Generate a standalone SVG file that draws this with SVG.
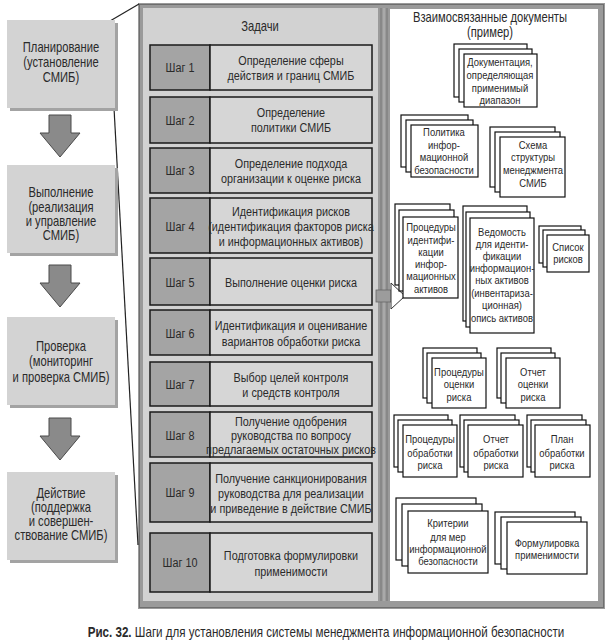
<svg xmlns="http://www.w3.org/2000/svg" width="608" height="644" viewBox="0 0 608 644">
<style>
text{font-family:"Liberation Sans",Arial,sans-serif;fill:#2a2a2a;text-anchor:middle;transform:scale(0.8,1)}
.ph{fill:#d3d3d3}
.sh{fill:#a3a3a3}
.lt{font-size:14px}
.st{font-size:13.5px}
.sn{fill:#a4a4a4;stroke:#1a1a1a;stroke-width:1.5}
.sd{fill:#d6d6d6;stroke:#1a1a1a;stroke-width:1.5}
.dc{fill:#fff;stroke:#111;stroke-width:1.2}
.dt{font-size:11.8px}
.ar{fill:#8a8a8a;stroke:#4a4a4a;stroke-width:1}
.ln{stroke:#222;stroke-width:1.2;fill:none}
</style>
<rect width="608" height="644" fill="#fff"/>

<!-- frames -->
<g id="frame">
<rect x="138" y="3" width="467" height="606" fill="#9a9a9a"/>
<rect x="139.5" y="4.5" width="464" height="603" fill="none" stroke="#6e6e6e" stroke-width="1"/>
<rect x="143" y="8" width="235" height="593" fill="#d2d2d2"/>
<rect x="390" y="9" width="208" height="592" fill="#fff"/>
<line x1="381" y1="8" x2="381" y2="601" stroke="#777" stroke-width="1"/>
<line x1="384" y1="8" x2="384" y2="601" stroke="#b8b8b8" stroke-width="1"/>
<line x1="387" y1="8" x2="387" y2="601" stroke="#777" stroke-width="1"/>
</g>

<!-- connectors -->
<g id="connectors">
<line class="ln" x1="110" y1="21" x2="139" y2="4"/>
<line class="ln" x1="114" y1="108" x2="138" y2="545"/>
<path class="ar" d="M49,115 H71 V133 H80 L60,157 L40,133 H49 Z"/>
<path class="ar" d="M49,265 H71 V283 H80 L60,307 L40,283 H49 Z"/>
<path class="ar" d="M49,418 H71 V436 H80 L60,460 L40,436 H49 Z"/>
<rect x="376" y="290" width="16" height="12" fill="#9c9c9c" stroke="#666" stroke-width="0.8"/>
<path d="M391,283 L405,296 L391,309 Z" fill="#fff" stroke="#333" stroke-width="1"/>
</g>

<!-- left phases -->
<g id="phase1">
<rect class="sh" x="10" y="23" width="108" height="88"/>
<rect class="ph" x="7" y="20" width="108" height="88"/>
<text class="lt" x="76.25" y="52">Планирование</text>
<text class="lt" x="76.25" y="67">(установление</text>
<text class="lt" x="76.25" y="82">СМИБ)</text>
</g>
<g id="phase2">
<rect class="sh" x="10" y="168" width="108" height="88"/>
<rect class="ph" x="7" y="165" width="108" height="88"/>
<text class="lt" x="76.25" y="197">Выполнение</text>
<text class="lt" x="76.25" y="212">(реализация</text>
<text class="lt" x="76.25" y="226">и управление</text>
<text class="lt" x="76.25" y="240">СМИБ)</text>
</g>
<g id="phase3">
<rect class="sh" x="10" y="320" width="108" height="88"/>
<rect class="ph" x="7" y="317" width="108" height="88"/>
<text class="lt" x="76.25" y="351">Проверка</text>
<text class="lt" x="76.25" y="366">(мониторинг</text>
<text class="lt" x="76.25" y="382">и проверка СМИБ)</text>
</g>
<g id="phase4">
<rect class="sh" x="10" y="475" width="108" height="88"/>
<rect class="ph" x="7" y="472" width="108" height="88"/>
<text class="lt" x="76.25" y="498">Действие</text>
<text class="lt" x="76.25" y="512">(поддержка</text>
<text class="lt" x="76.25" y="526">и совершен-</text>
<text class="lt" x="76.25" y="540">ствование СМИБ)</text>
</g>

<!-- tasks -->
<text class="lt" x="325" y="31">Задачи</text>
<g id="step1">
<rect class="sn" x="150" y="45" width="60" height="45"/><rect class="sd" x="210" y="45" width="162" height="45"/>
<text class="st" x="225" y="72">Шаг 1</text>
<text class="st" x="363.75" y="65">Определение сферы</text>
<text class="st" x="363.75" y="80">действия и границ СМИБ</text>
</g>
<g id="step2">
<rect class="sn" x="150" y="97" width="60" height="46"/><rect class="sd" x="210" y="97" width="162" height="46"/>
<text class="st" x="225" y="125">Шаг 2</text>
<text class="st" x="363.75" y="117">Определение</text>
<text class="st" x="363.75" y="132">политики СМИБ</text>
</g>
<g id="step3">
<rect class="sn" x="150" y="148" width="60" height="45"/><rect class="sd" x="210" y="148" width="162" height="45"/>
<text class="st" x="225" y="175">Шаг 3</text>
<text class="st" x="363.75" y="168">Определение подхода</text>
<text class="st" x="363.75" y="183">организации к оценке риска</text>
</g>
<g id="step4">
<rect class="sn" x="150" y="198" width="60" height="55"/><rect class="sd" x="210" y="198" width="162" height="55"/>
<text class="st" x="225" y="231">Шаг 4</text>
<text class="st" x="363.75" y="216">Идентификация рисков</text>
<text class="st" x="363.75" y="231">(идентификация факторов риска</text>
<text class="st" x="363.75" y="246">и информационных активов)</text>
</g>
<g id="step5">
<rect class="sn" x="150" y="258" width="60" height="47"/><rect class="sd" x="210" y="258" width="162" height="47"/>
<text class="st" x="225" y="287">Шаг 5</text>
<text class="st" x="363.75" y="287">Выполнение оценки риска</text>
</g>
<g id="step6">
<rect class="sn" x="150" y="310" width="60" height="45"/><rect class="sd" x="210" y="310" width="162" height="45"/>
<text class="st" x="225" y="338">Шаг 6</text>
<text class="st" x="363.75" y="330">Идентификация и оценивание</text>
<text class="st" x="363.75" y="346">вариантов обработки риска</text>
</g>
<g id="step7">
<rect class="sn" x="150" y="362" width="60" height="44"/><rect class="sd" x="210" y="362" width="162" height="44"/>
<text class="st" x="225" y="389">Шаг 7</text>
<text class="st" x="363.75" y="382">Выбор целей контроля</text>
<text class="st" x="363.75" y="397">и средств контроля</text>
</g>
<g id="step8">
<rect class="sn" x="150" y="412" width="60" height="45"/><rect class="sd" x="210" y="412" width="162" height="45"/>
<text class="st" x="225" y="440">Шаг 8</text>
<text class="st" x="363.75" y="426">Получение одобрения</text>
<text class="st" x="363.75" y="440">руководства по вопросу</text>
<text class="st" x="363.75" y="454">предлагаемых остаточных рисков</text>
</g>
<g id="step9">
<rect class="sn" x="150" y="463" width="60" height="59"/><rect class="sd" x="210" y="463" width="162" height="59"/>
<text class="st" x="225" y="497">Шаг 9</text>
<text class="st" x="363.75" y="483">Получение санкционирования</text>
<text class="st" x="363.75" y="498">руководства для реализации</text>
<text class="st" x="363.75" y="513">и приведение в действие СМИБ</text>
</g>
<g id="step10">
<rect class="sn" x="150" y="533" width="60" height="59"/><rect class="sd" x="210" y="533" width="162" height="59"/>
<text class="st" x="225" y="567">Шаг 10</text>
<text class="st" x="363.75" y="560">Подготовка формулировки</text>
<text class="st" x="363.75" y="576">применимости</text>
</g>

<!-- documents -->
<text class="lt" x="612.5" y="22">Взаимосвязанные документы</text>
<text class="lt" x="612.5" y="37">(пример)</text>
<g id="doc1">
<rect class="dc" x="454" y="44" width="73" height="53"/><rect class="dc" x="459" y="49" width="73" height="53"/><rect class="dc" x="464" y="54" width="73" height="53"/>
<text class="dt" x="625" y="66">Документация,</text>
<text class="dt" x="625" y="79">определяющая</text>
<text class="dt" x="625" y="92">применимый</text>
<text class="dt" x="625" y="104">диапазон</text>
</g>
<g id="doc2">
<rect class="dc" x="401" y="115" width="67" height="52"/><rect class="dc" x="406" y="120" width="67" height="52"/><rect class="dc" x="411" y="125" width="67" height="52"/>
<text class="dt" x="555" y="136">Политика</text>
<text class="dt" x="555" y="149">инфор-</text>
<text class="dt" x="555" y="161">мационной</text>
<text class="dt" x="555" y="174">безопасности</text>
</g>
<g id="doc3">
<rect class="dc" x="490" y="127" width="65" height="60"/><rect class="dc" x="495" y="132" width="65" height="60"/><rect class="dc" x="500" y="137" width="65" height="60"/>
<text class="dt" x="666.25" y="149">Схема</text>
<text class="dt" x="666.25" y="161">структуры</text>
<text class="dt" x="666.25" y="174">менеджмента</text>
<text class="dt" x="666.25" y="187">СМИБ</text>
</g>
<g id="doc4">
<rect class="dc" x="395" y="204" width="55" height="81"/><rect class="dc" x="399" y="210" width="55" height="81"/><rect class="dc" x="403" y="217" width="55" height="81"/>
<text class="dt" x="538.75" y="231">Процедуры</text>
<text class="dt" x="538.75" y="244">идентифи-</text>
<text class="dt" x="538.75" y="256">кации</text>
<text class="dt" x="538.75" y="268">инфор-</text>
<text class="dt" x="538.75" y="280">мационных</text>
<text class="dt" x="538.75" y="293">активов</text>
</g>
<g id="doc5">
<rect class="dc" x="463" y="206" width="64" height="115"/><rect class="dc" x="466" y="212" width="64" height="115"/><rect class="dc" x="470" y="218" width="64" height="115"/>
<text class="dt" x="627.5" y="236">Ведомость</text>
<text class="dt" x="627.5" y="248">для иденти-</text>
<text class="dt" x="627.5" y="260">фикации</text>
<text class="dt" x="627.5" y="272">информацион-</text>
<text class="dt" x="627.5" y="284.5">ных активов</text>
<text class="dt" x="627.5" y="297">(инвентариза-</text>
<text class="dt" x="627.5" y="309">ционная)</text>
<text class="dt" x="627.5" y="322">опись активов</text>
</g>
<g id="doc6">
<rect class="dc" x="539" y="226" width="42" height="37"/><rect class="dc" x="543" y="230" width="42" height="37"/><rect class="dc" x="547" y="235" width="42" height="37"/>
<text class="dt" x="710" y="251">Список</text>
<text class="dt" x="710" y="263">рисков</text>
</g>
<g id="doc7">
<rect class="dc" x="423" y="348" width="54" height="50"/><rect class="dc" x="427" y="353" width="54" height="50"/><rect class="dc" x="432" y="358" width="54" height="50"/>
<text class="dt" x="573.75" y="376">Процедуры</text>
<text class="dt" x="573.75" y="388">оценки</text>
<text class="dt" x="573.75" y="401">риска</text>
</g>
<g id="doc8">
<rect class="dc" x="497" y="348" width="54" height="50"/><rect class="dc" x="501" y="353" width="54" height="50"/><rect class="dc" x="506" y="358" width="54" height="50"/>
<text class="dt" x="666.25" y="376">Отчет</text>
<text class="dt" x="666.25" y="388">оценки</text>
<text class="dt" x="666.25" y="401">риска</text>
</g>
<g id="doc9">
<rect class="dc" x="394" y="415" width="54" height="52"/><rect class="dc" x="398" y="420" width="54" height="52"/><rect class="dc" x="403" y="425" width="54" height="52"/>
<text class="dt" x="537.5" y="443">Процедуры</text>
<text class="dt" x="537.5" y="457">обработки</text>
<text class="dt" x="537.5" y="469">риска</text>
</g>
<g id="doc10">
<rect class="dc" x="460" y="415" width="55" height="52"/><rect class="dc" x="464" y="420" width="55" height="52"/><rect class="dc" x="468" y="425" width="55" height="52"/>
<text class="dt" x="620" y="443">Отчет</text>
<text class="dt" x="620" y="457">обработки</text>
<text class="dt" x="620" y="469">риска</text>
</g>
<g id="doc11">
<rect class="dc" x="527" y="415" width="55" height="52"/><rect class="dc" x="531" y="420" width="55" height="52"/><rect class="dc" x="535" y="425" width="55" height="52"/>
<text class="dt" x="702.5" y="443">План</text>
<text class="dt" x="702.5" y="457">обработки</text>
<text class="dt" x="702.5" y="469">риска</text>
</g>
<g id="doc12">
<rect class="dc" x="396" y="498" width="80" height="62"/><rect class="dc" x="402" y="504" width="80" height="62"/><rect class="dc" x="408" y="511" width="80" height="62"/>
<text class="dt" x="560" y="527">Критерии</text>
<text class="dt" x="560" y="541">для мер</text>
<text class="dt" x="560" y="553">информационной</text>
<text class="dt" x="560" y="565">безопасности</text>
</g>
<g id="doc13">
<rect class="dc" x="495" y="512" width="80" height="52"/><rect class="dc" x="501" y="517" width="80" height="52"/><rect class="dc" x="507" y="522" width="80" height="52"/>
<text class="dt" x="683.75" y="547">Формулировка</text>
<text class="dt" x="683.75" y="559">применимости</text>
</g>

<text x="407.5" y="637" style="font-size:14.5px"><tspan font-weight="bold">Рис. 32.</tspan> Шаги для установления системы менеджмента информационной безопасности</text>
</svg>
